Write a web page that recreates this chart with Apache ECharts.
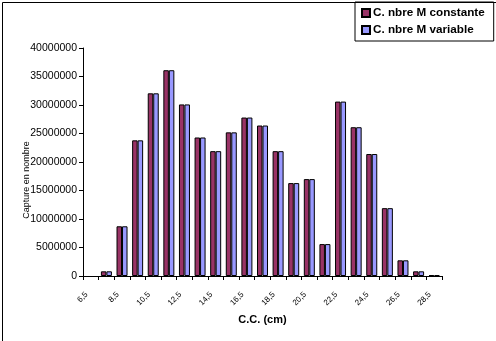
<!DOCTYPE html>
<html>
<head>
<meta charset="utf-8">
<script src="https://cdn.jsdelivr.net/npm/echarts@6/dist/echarts.min.js"></script>
<style>
  html, body { margin: 0; padding: 0; background: #fff; }
  #chart { width: 496px; height: 341px; }
</style>
</head>
<body>
<div id="chart"></div>
<script>
// Size classes (cm)
var categories = ['6,5', '7,5', '8,5', '9,5', '10,5', '11,5', '12,5', '13,5', '14,5', '15,5', '16,5', '17,5',
                  '18,5', '19,5', '20,5', '21,5', '22,5', '23,5', '24,5', '25,5', '26,5', '27,5', '28,5'];

// Catch in numbers, constant M
var constante = [null, 820000, 8720000, 23800000, 32050000, 36100000, 30100000, 24300000, 21900000, 25200000,
                 27800000, 26400000, 21900000, 16300000, 17000000, 5600000, 30600000, 26100000, 21400000,
                 11900000, 2750000, 820000, 150000];

// Catch in numbers, variable M
var variable = [null, 820000, 8720000, 23800000, 32050000, 36100000, 30100000, 24300000, 21900000, 25200000,
                27800000, 26400000, 21900000, 16300000, 17000000, 5600000, 30600000, 26100000, 21400000,
                11900000, 2750000, 820000, 150000];

var yMax = 40000000;
var yStep = 5000000;

var FONT = '"Liberation Sans", Arial, sans-serif';

var chart = echarts.init(document.getElementById('chart'), null, { renderer: 'canvas' });

chart.setOption({
  animation: false,
  backgroundColor: '#ffffff',
  grid: { left: 83, right: 54, top: 48, bottom: 65, containLabel: false },
  legend: {
    orient: 'vertical',
    left: 355,
    top: 2,
    padding: [5, 9, 5, 6],
    itemGap: 5,
    itemWidth: 8,
    itemHeight: 8,
    icon: 'rect',
    borderColor: '#000',
    borderWidth: 1,
    backgroundColor: '#fff',
    textStyle: { fontFamily: FONT, fontSize: 11.7, fontWeight: 'bold', color: '#000', padding: [0, 0, 0, -2] },
    data: ['C. nbre M constante', 'C. nbre M variable']
  },
  xAxis: {
    type: 'category',
    data: categories,
    name: 'C.C. (cm)',
    nameLocation: 'middle',
    nameGap: 38,
    nameTextStyle: { fontFamily: FONT, fontSize: 11, fontWeight: 'bold', color: '#000' },
    axisLine: { lineStyle: { color: '#000', width: 1 } },
    axisTick: { show: true, interval: 0, length: 4, lineStyle: { color: '#000' } },
    axisLabel: {
      interval: 1,
      rotate: 45,
      margin: 13,
      padding: [0, 6, 0, 0],
      fontFamily: FONT,
      fontSize: 8,
      color: '#000'
    },
    splitLine: { show: false }
  },
  yAxis: {
    type: 'value',
    min: 0,
    max: yMax,
    interval: yStep,
    axisLine: { show: true, lineStyle: { color: '#000', width: 1 } },
    axisTick: { show: true, length: 4, lineStyle: { color: '#000' } },
    axisLabel: {
      margin: 6,
      fontFamily: FONT,
      fontSize: 10.5,
      color: '#000',
      formatter: function (v) { return String(v); }
    },
    splitLine: { show: false }
  },
  graphic: [
    {
      type: 'rect',
      left: 0, top: 0,
      shape: { x: 0.5, y: 0.5, width: 495, height: 340 },
      style: { fill: 'none', stroke: '#000', lineWidth: 1 },
      silent: true, z: 100
    },
    {
      type: 'text',
      x: 27, y: 180,
      rotation: Math.PI / 2,
      style: {
        text: 'Capture en nombre',
        fontFamily: FONT, fontSize: 9, fill: '#000',
        textAlign: 'center', textVerticalAlign: 'middle'
      }
    }
  ],
  series: [
    {
      name: 'C. nbre M constante',
      type: 'bar',
      data: constante,
      barWidth: 5.5,
      barGap: '0%',
      itemStyle: { color: '#993366', borderColor: '#000', borderWidth: 1 }
    },
    {
      name: 'C. nbre M variable',
      type: 'bar',
      data: variable,
      barWidth: 5.5,
      itemStyle: { color: '#9999ff', borderColor: '#000', borderWidth: 1 }
    }
  ]
});
</script>
</body>
</html>
